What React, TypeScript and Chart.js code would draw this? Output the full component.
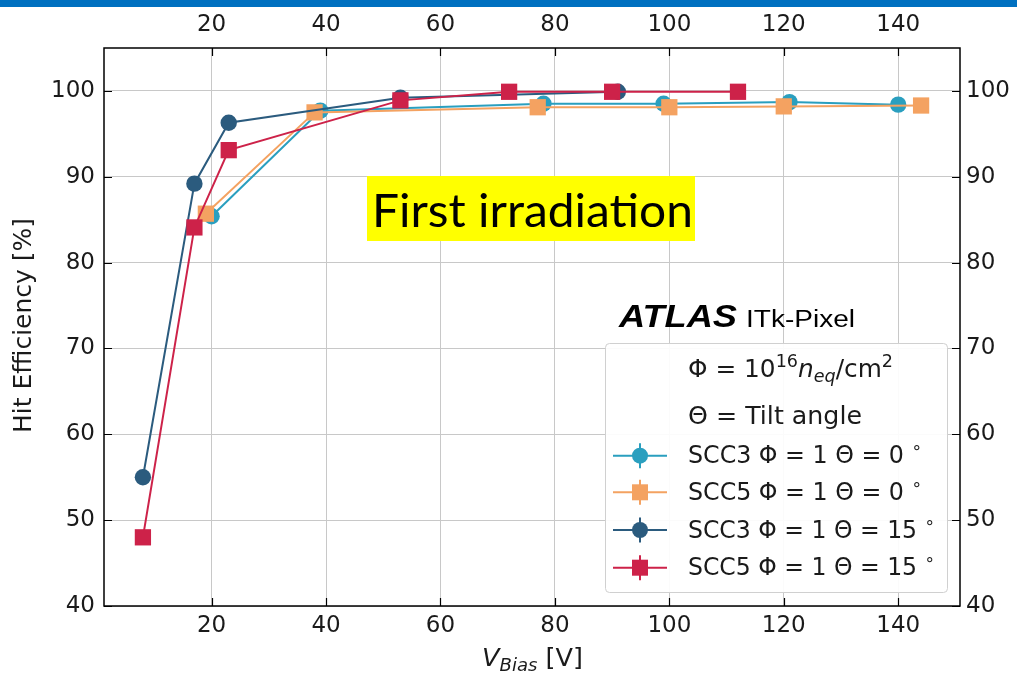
import React, { useEffect, useRef } from 'react';
import { Chart, registerables } from 'chart.js';
Chart.register(...registerables);

// ---- data ----
const scc3Theta0X = [20, 39, 78, 99, 121, 140];
const scc3Theta0Y = [85.4, 97.7, 98.5, 98.5, 98.7, 98.4];
const scc5Theta0X = [19, 38, 77, 100, 120, 144];
const scc5Theta0Y = [85.7, 97.5, 98.1, 98.1, 98.2, 98.3];
const scc3Theta15X = [8, 17, 23, 53, 91];
const scc3Theta15Y = [55.0, 89.2, 96.3, 99.2, 99.9];
const scc5Theta15X = [8, 17, 23, 53, 72, 90, 112];
const scc5Theta15Y = [48.0, 84.1, 93.1, 98.9, 99.9, 99.9, 99.9];

const xTicks = [20, 40, 60, 80, 100, 120, 140];
const yTicks = [40, 50, 60, 70, 80, 90, 100];
const xRange = [1.2, 150.8];
const yRange = [40, 105];

const seriesNames = ['SCC3', 'SCC5', 'SCC3', 'SCC5'];
const seriesTheta = ['0', '0', '15', '15'];
const seriesColors = ['#2a9fbf', '#f4a261', '#2b5b7e', '#cd2249'];
const seriesStyles = ['circle', 'rect', 'circle', 'rect'];

const titleText = 'First irradiation';
const yTitle = 'Hit Efficiency [%]';

type Part = { t: string; font: string; dy?: number };

function drawParts(ctx: CanvasRenderingContext2D, parts: Part[], x: number, y: number, targetW?: number) {
  ctx.save();
  let total = 0;
  for (const p of parts) {
    ctx.font = p.font;
    total += ctx.measureText(p.t).width;
  }
  const s = targetW ? targetW / total : 1;
  ctx.translate(x, y);
  ctx.scale(s, 1);
  ctx.textAlign = 'left';
  ctx.textBaseline = 'alphabetic';
  let cx = 0;
  for (const p of parts) {
    ctx.font = p.font;
    ctx.fillText(p.t, cx, p.dy || 0);
    cx += ctx.measureText(p.t).width;
  }
  ctx.restore();
}

const DV = "'DejaVu Sans'";

const overlay = {
  id: 'overlay',
  beforeDraw(chart: any) {
    const ctx = chart.ctx as CanvasRenderingContext2D;
    ctx.save();
    ctx.fillStyle = '#ffffff';
    ctx.fillRect(0, 0, chart.width, chart.height);
    ctx.fillStyle = '#0070c0';
    ctx.fillRect(0, 0, chart.width, 7);
    ctx.restore();
  },
  afterDraw(chart: any) {
    const ctx = chart.ctx as CanvasRenderingContext2D;
    const { left, right, top, bottom } = chart.chartArea;
    const xs = chart.scales.x;
    const ys = chart.scales.y;

    // yellow annotation box
    ctx.save();
    ctx.fillStyle = '#ffff00';
    ctx.fillRect(367, 176, 328, 65);
    ctx.fillStyle = '#000000';
    drawParts(ctx, [{ t: titleText, font: "46px Lato" }], 372, 227, 321);
    ctx.restore();

    // ATLAS label
    ctx.save();
    ctx.fillStyle = '#000000';
    drawParts(ctx, [{ t: 'ATLAS', font: "italic bold 32px 'Liberation Sans'" }], 619, 327, 118);
    drawParts(ctx, [{ t: 'ITk-Pixel', font: "23px 'Liberation Sans'" }], 746, 327, 109);
    ctx.restore();

    // legend box
    ctx.save();
    ctx.fillStyle = 'rgba(255,255,255,0.92)';
    ctx.strokeStyle = '#d0d0d0';
    ctx.lineWidth = 1;
    ctx.beginPath();
    (ctx as any).roundRect(605.5, 343.5, 342, 249, 4);
    ctx.fill();
    ctx.stroke();
    ctx.fillStyle = '#1a1a1a';
    drawParts(ctx, [
      { t: 'Φ = 10', font: `24px ${DV}` },
      { t: '16', font: `17px ${DV}`, dy: -10 },
      { t: 'n', font: `italic 24px ${DV}` },
      { t: 'eq', font: `italic 17px ${DV}`, dy: 5 },
      { t: '/cm', font: `24px ${DV}` },
      { t: '2', font: `17px ${DV}`, dy: -10 },
    ], 688, 377, 205);
    drawParts(ctx, [{ t: 'Θ = Tilt angle', font: `24px ${DV}` }], 688, 424, 174);
    const rowC = [455.7, 492.3, 530, 567.7];
    for (let i = 0; i < 4; i++) {
      const cy = rowC[i];
      const col = seriesColors[i];
      ctx.strokeStyle = col;
      ctx.fillStyle = col;
      ctx.lineWidth = 2;
      ctx.beginPath();
      ctx.moveTo(613, cy);
      ctx.lineTo(667, cy);
      ctx.moveTo(640, cy - 12.5);
      ctx.lineTo(640, cy + 12.5);
      ctx.stroke();
      if (seriesStyles[i] === 'circle') {
        ctx.beginPath();
        ctx.arc(640, cy, 8, 0, Math.PI * 2);
        ctx.fill();
      } else {
        ctx.fillRect(632, cy - 8, 16, 16);
      }
      ctx.fillStyle = '#1a1a1a';
      drawParts(ctx, [
        { t: `${seriesNames[i]} Φ = 1 Θ = ${seriesTheta[i]} `, font: `24px ${DV}` },
        { t: '∘', font: `17px ${DV}`, dy: -10 },
      ], 688, cy + 7.6, seriesTheta[i] === '0' ? 234 : 247);
    }
    ctx.restore();

    // frame
    ctx.save();
    ctx.strokeStyle = '#000000';
    ctx.lineWidth = 1.5;
    ctx.strokeRect(left, top, right - left, bottom - top);
    // inward ticks
    ctx.lineWidth = 1.2;
    ctx.beginPath();
    const tl = 8;
    for (const v of xTicks) {
      const px = Math.round(xs.getPixelForValue(v)) + 0.5;
      ctx.moveTo(px, bottom);
      ctx.lineTo(px, bottom - tl);
      ctx.moveTo(px, top);
      ctx.lineTo(px, top + tl);
    }
    for (const v of yTicks) {
      const py = Math.round(ys.getPixelForValue(v)) + 0.5;
      ctx.moveTo(left, py);
      ctx.lineTo(left + tl, py);
      ctx.moveTo(right, py);
      ctx.lineTo(right - tl, py);
    }
    ctx.stroke();
    ctx.restore();

    // axis titles
    ctx.save();
    ctx.fillStyle = '#1a1a1a';
    ctx.translate(31, 433);
    ctx.rotate(-Math.PI / 2);
    drawParts(ctx, [{ t: yTitle, font: `24px ${DV}` }], 0, 0, 215);
    ctx.restore();
    ctx.save();
    ctx.fillStyle = '#1a1a1a';
    drawParts(ctx, [
      { t: 'V', font: `italic 24px ${DV}` },
      { t: 'Bias', font: `italic 17px ${DV}`, dy: 5 },
      { t: ' [V]', font: `24px ${DV}` },
    ], 482, 666, 101);
    ctx.restore();
  },
};

function setTicks(list: number[]) {
  return (scale: any) => {
    scale.ticks = list.map((v) => ({ value: v }));
  };
}

export default function App() {
  const ref = useRef<HTMLCanvasElement | null>(null);
  useEffect(() => {
    document.body.style.margin = '0';
    const canvas = ref.current!;
    const mk = (i: number, xsArr: number[], ysArr: number[], order: number) => ({
      label: `${seriesNames[i]} Θ=${seriesTheta[i]}`,
      data: xsArr.map((x, k) => ({ x, y: ysArr[k] })),
      borderColor: seriesColors[i],
      backgroundColor: seriesColors[i],
      pointBackgroundColor: seriesColors[i],
      pointBorderColor: seriesColors[i],
      pointBorderWidth: 0,
      borderWidth: 2,
      pointStyle: seriesStyles[i],
      pointRadius: seriesStyles[i] === 'rect' ? 11.5 : 8.2,
      tension: 0,
      order,
    });
    const tickFont = { family: 'DejaVu Sans', size: 23 };
    const chart = new Chart(canvas, {
      type: 'line',
      data: {
        datasets: [
          mk(0, scc3Theta0X, scc3Theta0Y, 3),
          mk(1, scc5Theta0X, scc5Theta0Y, 2),
          mk(2, scc3Theta15X, scc3Theta15Y, 1),
          mk(3, scc5Theta15X, scc5Theta15Y, 0),
        ] as any,
      },
      options: {
        responsive: false,
        animation: false,
        devicePixelRatio: 1,
        layout: { padding: 0 },
        plugins: { legend: { display: false }, tooltip: { enabled: false } },
        scales: {
          x: {
            type: 'linear',
            position: 'bottom',
            min: xRange[0],
            max: xRange[1],
            afterBuildTicks: setTicks(xTicks),
            afterFit: (s: any) => { s.height = 72; },
            grid: { color: '#c8c8c8', lineWidth: 1, drawTicks: false },
            border: { display: false },
            ticks: { font: tickFont, color: '#1a1a1a', padding: 6, maxRotation: 0 },
          },
          x2: {
            type: 'linear',
            position: 'top',
            min: xRange[0],
            max: xRange[1],
            afterBuildTicks: setTicks(xTicks),
            afterFit: (s: any) => { s.height = 48; },
            grid: { display: false, drawTicks: false },
            border: { display: false },
            ticks: { font: tickFont, color: '#1a1a1a', padding: 9, maxRotation: 0 },
          },
          y: {
            type: 'linear',
            position: 'left',
            min: yRange[0],
            max: yRange[1],
            afterBuildTicks: setTicks(yTicks),
            afterFit: (s: any) => { s.width = 104; },
            grid: { color: '#c8c8c8', lineWidth: 1, drawTicks: false },
            border: { display: false },
            ticks: { font: tickFont, color: '#1a1a1a', padding: 9 },
          },
          y2: {
            type: 'linear',
            position: 'right',
            min: yRange[0],
            max: yRange[1],
            afterBuildTicks: setTicks(yTicks),
            afterFit: (s: any) => { s.width = 57; },
            grid: { display: false, drawTicks: false },
            border: { display: false },
            ticks: { font: tickFont, color: '#1a1a1a', padding: 6 },
          },
        },
      } as any,
      plugins: [overlay],
    });
    return () => chart.destroy();
  }, []);
  return (
    <div style={{ width: 1017, height: 678 }}>
      <canvas ref={ref} width={1017} height={678} style={{ display: 'block' }} />
    </div>
  );
}
